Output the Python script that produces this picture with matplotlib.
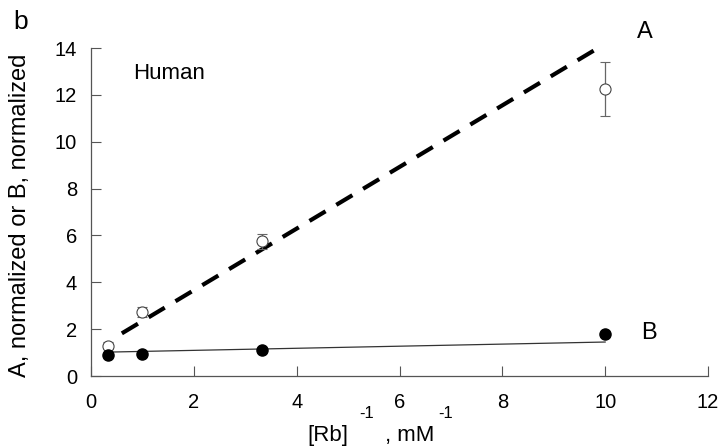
import numpy as np
import matplotlib
matplotlib.use('agg')
import matplotlib.pyplot as plt

plt.rcParams['font.family'] = ['Liberation Sans', 'DejaVu Sans']

# inverse Rb concentration, mM^-1
rb_inv = [0.33, 1.0, 3.33, 10.0]
# A, normalized (open circles) with error bars
a_vals = [1.30, 2.72, 5.75, 12.25]
a_err = [0.15, 0.22, 0.32, 1.17]
# B, normalized (filled circles)
b_vals = [0.88, 0.93, 1.10, 1.78]
# fitted lines: x range and y at each end
a_fit_x = [0.60, 9.90]
a_fit_y = [1.82, 14.05]
b_fit_x = [0.33, 10.0]
b_fit_y = [1.02, 1.45]

xticks = [0, 2, 4, 6, 8, 10, 12]
yticks = [0, 2, 4, 6, 8, 10, 12, 14]

fig = plt.figure(figsize=(7.2, 4.47), dpi=100)
ax = fig.add_axes([91 / 720, 1 - 376 / 447, 617 / 720, 328 / 447])

ax.plot(a_fit_x, a_fit_y, color='black', lw=3.0, dashes=(4.5, 3.0),
        solid_capstyle='butt')
ax.plot(b_fit_x, b_fit_y, color='#333333', lw=0.9)
ax.errorbar(rb_inv, a_vals, yerr=a_err, fmt='o', mfc='white', mec='#444444',
            mew=0.8, ms=8, ecolor='#666666', elinewidth=0.9, capsize=3.5,
            capthick=0.9, zorder=3)
ax.plot(rb_inv, b_vals, 'o', color='black', ms=8, zorder=4)

ax.set_xlim(0, 12)
ax.set_ylim(0, 14)
ax.set_xticks(xticks)
ax.set_yticks(yticks)
ax.tick_params(direction='in', length=7, width=0.8, color='#555555',
               labelsize=14.5)
ax.tick_params(axis='x', pad=12)
ax.tick_params(axis='y', pad=10)
for side in ['top', 'right']:
    ax.spines[side].set_visible(False)
for side in ['left', 'bottom']:
    ax.spines[side].set_color('#555555')
    ax.spines[side].set_linewidth(0.9)

ax.set_ylabel('A, normalized or B, normalized', fontsize=17)
ax.yaxis.set_label_coords(-0.097, 0.49)

ax.text(0.82, 12.9, 'Human', fontsize=16, va='center')
ax.text(10.62, 14.7, 'A', fontsize=17, va='center', clip_on=False)
ax.text(10.7, 1.83, 'B', fontsize=17, va='center', clip_on=False)

# x label with raised exponents
fig.text(307 / 720, 1 - 441 / 447, '[Rb]', fontsize=16, va='baseline')
fig.text(359 / 720, 1 - 418 / 447, '-1', fontsize=12, va='baseline')
fig.text(385 / 720, 1 - 441 / 447, ', mM', fontsize=16, va='baseline')
fig.text(438 / 720, 1 - 418 / 447, '-1', fontsize=12, va='baseline')

fig.text(13 / 720, 1 - 29 / 447, 'b', fontsize=19, va='baseline')

fig.savefig('out.png', dpi=100)
plt.close(fig)
